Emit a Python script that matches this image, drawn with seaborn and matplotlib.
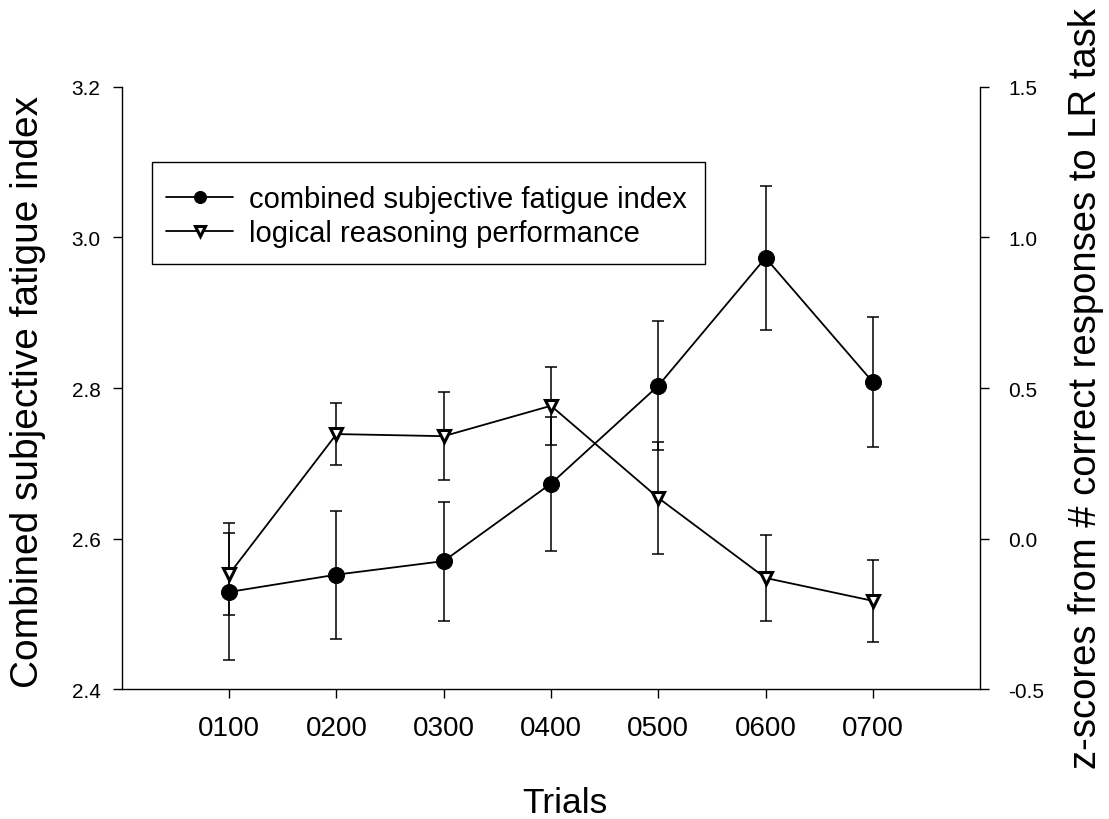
import matplotlib
matplotlib.use("Agg")
import matplotlib.pyplot as plt
from matplotlib.patches import Rectangle
import seaborn as sns
import pandas as pd
import numpy as np

# ---- data ----
trials = [1, 2, 3, 4, 5, 6, 7]
trial_labels = ["0100", "0200", "0300", "0400", "0500", "0600", "0700"]
fatigue_mean = [2.529, 2.552, 2.570, 2.673, 2.803, 2.973, 2.808]
fatigue_err = [0.091, 0.085, 0.079, 0.089, 0.086, 0.096, 0.087]
lr_mean = [-0.118, 0.347, 0.340, 0.441, 0.135, -0.131, -0.207]
lr_err = [0.136, 0.104, 0.146, 0.130, 0.187, 0.142, 0.136]

left_ticks = [2.4, 2.6, 2.8, 3.0, 3.2]
right_ticks = [-0.5, 0.0, 0.5, 1.0, 1.5]

sns.set_theme(style="white")
plt.rcParams['font.family'] = ['Liberation Sans', 'DejaVu Sans']
plt.rcParams['text.color'] = 'black'
plt.rcParams['axes.labelcolor'] = 'black'
plt.rcParams['xtick.color'] = 'black'
plt.rcParams['ytick.color'] = 'black'

fig = plt.figure(figsize=(11.09, 8.2), dpi=100)
ax = fig.add_axes([0.110, 0.1585, 0.7737, 0.7342])
ax2 = ax.twinx()

df1 = pd.DataFrame({"trial": trials, "value": fatigue_mean})
df2 = pd.DataFrame({"trial": trials, "value": lr_mean})

lw = 1.3
# error bars
ax.errorbar(trials, fatigue_mean, yerr=fatigue_err, fmt="none", ecolor="black",
            elinewidth=1.1, capsize=4.5, capthick=1.1, zorder=2)
ax2.errorbar(trials, lr_mean, yerr=lr_err, fmt="none", ecolor="black",
             elinewidth=1.1, capsize=4.5, capthick=1.1, zorder=2)

sns.lineplot(data=df1, x="trial", y="value", ax=ax, color="black", linewidth=lw,
             marker="o", markersize=11.5, markerfacecolor="black",
             markeredgecolor="black", label="combined subjective fatigue index",
             legend=False, zorder=3)
sns.lineplot(data=df2, x="trial", y="value", ax=ax2, color="black", linewidth=lw,
             marker="v", markersize=9, markerfacecolor="white",
             markeredgecolor="black", markeredgewidth=2.2,
             label="logical reasoning performance", legend=False, zorder=3)

ax.set_xlim(0, 8)
ax.set_ylim(2.4, 3.2)
ax2.set_ylim(-0.5, 1.5)
ax.set_xticks(trials)
ax.set_xticklabels(trial_labels)
ax.set_yticks(left_ticks)
ax.set_yticklabels([f"{t:.1f}" for t in left_ticks])
ax2.set_yticks(right_ticks)
ax2.set_yticklabels([f"{t:.1f}" for t in right_ticks])

for a in (ax, ax2):
    a.set_facecolor("none")
    for s in a.spines.values():
        s.set_color("black")
        s.set_linewidth(1.0)
    a.spines["top"].set_visible(False)
    a.grid(False)

ax.spines["right"].set_visible(False)
ax2.spines["left"].set_visible(False)
ax2.spines["bottom"].set_visible(False)

ax.tick_params(axis="x", direction="out", length=6.5, width=1, colors="black",
               labelsize=20, pad=12, bottom=True)
ax.tick_params(axis="y", direction="out", length=6.5, width=1, colors="black",
               labelsize=15, pad=9, left=True)
ax2.tick_params(axis="y", direction="out", length=6.5, width=1, colors="black",
                labelsize=15, pad=14, right=True)

ax.set_xlabel("Trials", fontsize=25.5)
ax.xaxis.set_label_coords(0.516, -0.204)
ax.xaxis.label.set_verticalalignment("baseline")
ax.set_ylabel("Combined subjective fatigue index", fontsize=28)
ax.yaxis.set_label_coords(-0.088, 0.495)
ax2.set_ylabel("z-scores from # correct responses to LR task", fontsize=27.5)
ax2.yaxis.set_label_coords(1.103, 0.500)

# legend frame drawn as a plain rectangle (axes coords)
frame = Rectangle((30 / 858, 425 / 602), 553 / 858, 102 / 602,
                  transform=ax2.transAxes, facecolor="white", edgecolor="black",
                  linewidth=1.0, zorder=4)
ax2.add_patch(frame)

h1, l1 = ax.get_legend_handles_labels()
h2, l2 = ax2.get_legend_handles_labels()
leg = ax2.legend(h1 + h2, l1 + l2, loc="upper left",
                 bbox_to_anchor=(31 / 858, (690 - 173) / 602), fontsize=21,
                 frameon=False, handlelength=2.3, handletextpad=0.55,
                 labelspacing=0.2, borderpad=0.45, markerscale=0.75,
                 borderaxespad=0)
leg.set_zorder(5)

fig.savefig("out.png", dpi=100)
